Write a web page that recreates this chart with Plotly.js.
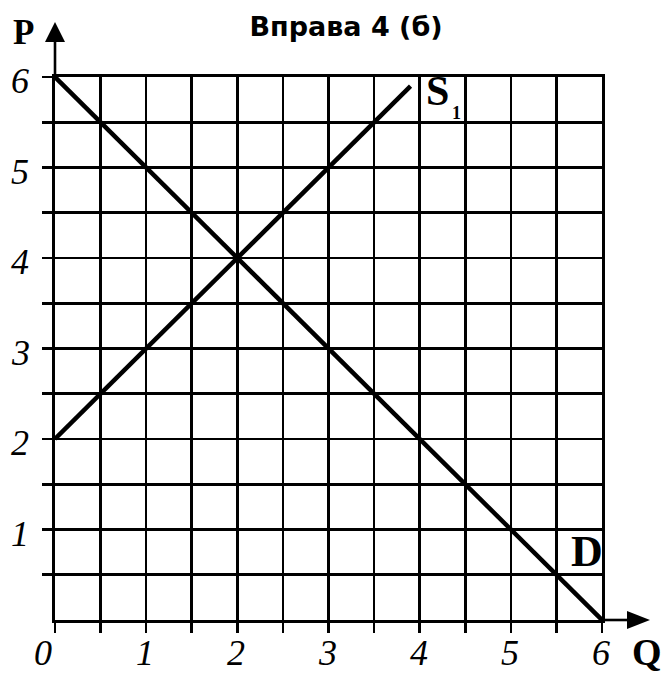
<!DOCTYPE html>
<html>
<head>
<meta charset="utf-8">
<script src="https://cdn.plot.ly/plotly-3.0.1.min.js"></script>
<style>html,body{margin:0;padding:0;background:#fff;}#chart{width:665px;height:673px;}</style>
</head>
<body>
<div id="chart"></div>
<script>
// Data
const supplyQ = [0, 3.9];
const supplyP = [2, 5.9];
const demandQ = [0, 6];
const demandP = [6, 0];
const gridVals = [0, 0.5, 1, 1.5, 2, 2.5, 3, 3.5, 4, 4.5, 5, 5.5, 6];
const xLabelVals = [0, 1, 2, 3, 4, 5, 6];
const xLabelText = ['0', '1', '2', '3', '4', '5', '6'];
const yLabelVals = [1, 2, 3, 4, 5, 6];
const yLabelText = ['1', '2', '3', '4', '5', '6'];
const titleText = 'Вправа 4 (б)';
const supplyLabel = 'S';
const supplySub = '1';
const demandLabel = 'D';
const xAxisLabel = 'Q';
const yAxisLabel = 'P';

const lineStyle = {color: '#000', width: 4.5};
const traces = [
  {x: supplyQ, y: supplyP, mode: 'lines', line: lineStyle, hoverinfo: 'skip', cliponaxis: false},
  {x: demandQ, y: demandP, mode: 'lines', line: lineStyle, hoverinfo: 'skip', cliponaxis: false}
];

const serif = 'Liberation Serif, Times New Roman, serif';
const axisCommon = {
  range: [0, 6], showgrid: true, gridcolor: '#000', gridwidth: 2.6,
  zeroline: false, showline: true, linecolor: '#000', linewidth: 2.6, mirror: true,
  ticks: 'outside', ticklen: 10, tickwidth: 2.6, tickcolor: '#000',
  tickmode: 'array', showticklabels: false, fixedrange: true
};

const pw = 547, ph = 543;
const labelFont = {family: serif, size: 36, color: '#000'};
const annotations = [];
xLabelVals.forEach((v, i) => annotations.push({
  xref: 'x', yref: 'paper', x: v, y: (620-653)/ph, text: '<i>' + xLabelText[i] + '</i>',
  showarrow: false, xanchor: 'center', yanchor: 'middle', xshift: v === 0 ? -12 : -1, font: labelFont
}));
yLabelVals.forEach((v, i) => annotations.push({
  xref: 'paper', yref: 'y', x: (20-55)/pw, y: v, text: '<i>' + yLabelText[i] + '</i>',
  showarrow: false, xanchor: 'center', yanchor: 'middle', yshift: -4, font: labelFont
}));
annotations.push(
  {xref: 'paper', yref: 'paper', x: (23-55)/pw, y: (620-33)/ph, text: '<b>' + yAxisLabel + '</b>', showarrow: false,
   xanchor: 'center', yanchor: 'middle', font: {family: serif, size: 35, color: '#000'}},
  {xref: 'paper', yref: 'paper', x: (647-55)/pw, y: (620-652)/ph, text: '<b>' + xAxisLabel + '</b>', showarrow: false,
   xanchor: 'center', yanchor: 'middle', font: {family: serif, size: 38, color: '#000'}},
  {xref: 'x', yref: 'y', x: 4.05, y: 5.84, text: '<b>' + supplyLabel + '</b>', showarrow: false,
   xanchor: 'left', yanchor: 'middle', font: {family: serif, size: 42, color: '#000'}},
  {xref: 'x', yref: 'y', x: 4.33, y: 5.6, text: '<b>' + supplySub + '</b>', showarrow: false,
   xanchor: 'left', yanchor: 'middle', font: {family: serif, size: 18, color: '#000'}},
  {xref: 'x', yref: 'y', x: 5.83, y: 0.76, text: '<b>' + demandLabel + '</b>', showarrow: false,
   xanchor: 'center', yanchor: 'middle', font: {family: serif, size: 44, color: '#000'}}
);

const layout = {
  width: 665, height: 673,
  margin: {l: 55, r: 63, t: 77, b: 53, pad: 0},
  paper_bgcolor: '#fff', plot_bgcolor: '#fff',
  showlegend: false,
  title: {text: '<b>' + titleText + '</b>', font: {family: 'DejaVu Sans, Verdana, sans-serif', size: 27, color: '#000'},
          x: 346/665, xanchor: 'center', y: 1 - 27/673, yanchor: 'middle'},
  xaxis: Object.assign({}, axisCommon, {tickvals: gridVals}),
  yaxis: Object.assign({}, axisCommon, {tickvals: gridVals.slice(1)}),
  shapes: [
    {type: 'line', xref: 'paper', yref: 'paper', x0: 0, x1: 0, y0: 1, y1: 1.07, line: {color: '#000', width: 2.6}},
    {type: 'path', xref: 'paper', yref: 'paper',
     path: `M ${-10/pw} ${(620-42)/ph} L ${10/pw} ${(620-42)/ph} L 0 ${(620-22)/ph} Z`,
     fillcolor: '#000', line: {color: '#000', width: 0}},
    {type: 'line', xref: 'paper', yref: 'paper', x0: 1, x1: (630-55)/pw, y0: 0, y1: 0, line: {color: '#000', width: 2.6}},
    {type: 'path', xref: 'paper', yref: 'paper',
     path: `M ${(627-55)/pw} ${9/ph} L ${(627-55)/pw} ${-9/ph} L ${(650-55)/pw} 0 Z`,
     fillcolor: '#000', line: {color: '#000', width: 0}}
  ],
  annotations: annotations
};

Plotly.newPlot('chart', traces, layout, {displayModeBar: false, staticPlot: true});
</script>
</body>
</html>
